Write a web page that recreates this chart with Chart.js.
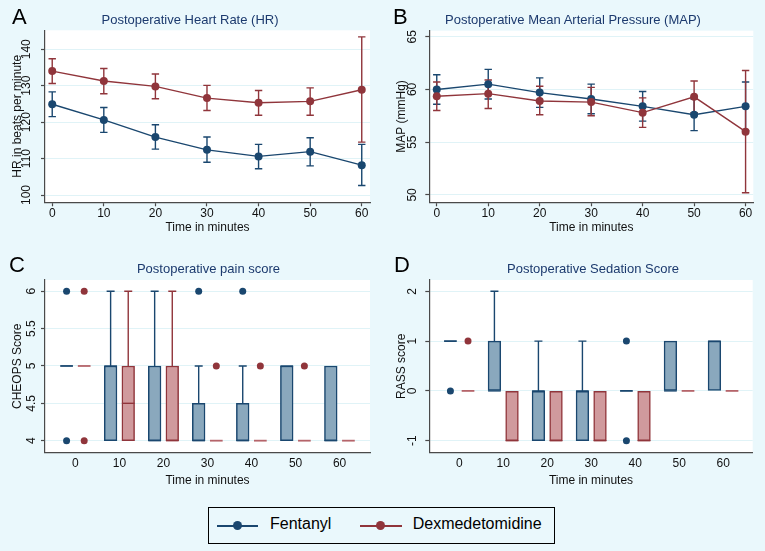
<!DOCTYPE html>
<html>
<head>
<meta charset="utf-8">
<script src="https://cdn.jsdelivr.net/npm/chart.js@4.4.1/dist/chart.umd.min.js"></script>
<style>
html,body{margin:0;padding:0;background:#eaf8fc;}
#root{position:relative;width:765px;height:551px;overflow:hidden;font-family:"Liberation Sans",Arial,Helvetica,sans-serif;background:#eaf8fc;}
canvas{position:absolute;}
.ttl{position:absolute;color:#1c3a6e;font-size:13px;line-height:13px;white-space:nowrap;transform:translateX(-50%);}
.let{position:absolute;color:#000;font-size:22px;line-height:22px;}
#legend{position:absolute;left:208px;top:507px;width:347px;height:37px;border:1px solid #000;box-sizing:border-box;}
.lgline{position:absolute;height:1.5px;}
.lgdot{position:absolute;width:9px;height:9px;border-radius:50%;}
.lgtxt{position:absolute;font-size:16px;line-height:16px;color:#000;white-space:nowrap;}
</style>
</head>
<body>
<div id="root">
  <canvas id="cA" width="383" height="250" style="left:0;top:0;"></canvas>
  <canvas id="cB" width="382" height="250" style="left:383px;top:0;"></canvas>
  <canvas id="cC" width="383" height="250" style="left:0;top:250px;"></canvas>
  <canvas id="cD" width="382" height="250" style="left:383px;top:250px;"></canvas>

  <div class="let" style="left:12px;top:6.4px;">A</div>
  <div class="let" style="left:393px;top:6.4px;">B</div>
  <div class="let" style="left:9px;top:254.4px;">C</div>
  <div class="let" style="left:394px;top:254.4px;">D</div>

  <div class="ttl" style="left:190px;top:13px;">Postoperative Heart Rate (HR)</div>
  <div class="ttl" style="left:573px;top:13px;">Postoperative Mean Arterial Pressure (MAP)</div>
  <div class="ttl" style="left:208.5px;top:261.5px;">Postoperative pain score</div>
  <div class="ttl" style="left:593px;top:261.5px;">Postoperative Sedation Score</div>

  <div id="legend"></div>
  <div class="lgline" style="left:217px;top:525px;width:41px;background:#1a476f;"></div>
  <div class="lgdot" style="left:233.2px;top:521.2px;background:#1a476f;"></div>
  <div class="lgtxt" style="left:270px;top:516px;">Fentanyl</div>
  <div class="lgline" style="left:360px;top:525px;width:42px;background:#90353b;"></div>
  <div class="lgdot" style="left:376.2px;top:521.2px;background:#90353b;"></div>
  <div class="lgtxt" style="left:412.7px;top:516px;">Dexmedetomidine</div>
</div>

<script>
// ---------------- DATA ----------------
const minutes = [0, 10, 20, 30, 40, 50, 60];

// A: Heart rate (mean with 95% CI)
const hrFentMean = [124.9, 120.6, 115.9, 112.4, 110.6, 111.9, 108.2];
const hrFentLo   = [121.5, 117.2, 112.6, 109.0, 107.2, 108.0, 102.6];
const hrFentHi   = [128.3, 124.0, 119.3, 115.9, 113.9, 115.7, 113.9];
const hrDexMean  = [134.0, 131.3, 129.8, 126.6, 125.3, 125.7, 128.9];
const hrDexLo    = [130.6, 127.8, 126.4, 123.2, 121.9, 121.9, 114.5];
const hrDexHi    = [137.4, 134.7, 133.2, 130.1, 128.7, 129.4, 143.4];
const hrTicks    = [100, 110, 120, 130, 140];

// B: Mean arterial pressure
const mapFentMean = [60.0, 60.5, 59.7, 59.1, 58.4, 57.6, 58.4];
const mapFentLo   = [58.6, 59.1, 58.3, 57.7, 57.0, 56.1, 56.1];
const mapFentHi   = [61.4, 61.9, 61.1, 60.5, 59.8, 59.1, 60.7];
const mapDexMean  = [59.35, 59.6, 58.9, 58.8, 57.8, 59.3, 56.0];
const mapDexLo    = [58.0, 58.2, 57.6, 57.5, 56.4, 57.8, 50.2];
const mapDexHi    = [60.7, 60.9, 60.3, 60.2, 59.2, 60.8, 61.8];
const mapTicks    = [50, 55, 60, 65];

// C: Pain score (CHEOPS) box plots
const painFentQ1  = [5, 4, 4, 4, 4, 4, 4];
const painFentMed = [5, 5, 4, 4, 4, 5, 4];
const painFentQ3  = [5, 5, 5, 4.5, 4.5, 5, 5];
const painFentLow = [5, 4, 4, 4, 4, 4, 4];
const painFentHigh= [5, 6, 6, 5, 5, 5, 5];
const painFentOut = [[6, 4], [], [], [6], [6], [], []];
const painDexQ1   = [5, 4, 4, 4, 4, 4, 4];
const painDexMed  = [5, 4.5, 4, 4, 4, 4, 4];
const painDexQ3   = [5, 5, 5, 4, 4, 4, 4];
const painDexLow  = [5, 4, 4, 4, 4, 4, 4];
const painDexHigh = [5, 6, 6, 4, 4, 4, 4];
const painDexOut  = [[6, 4], [], [], [5], [5], [5], []];
const painTicks   = [4, 4.5, 5, 5.5, 6];

// D: Sedation score (RASS) box plots
const sedFentQ1   = [1, 0, -1, -1, 0, 0, 0];
const sedFentMed  = [1, 0, 0, 0, 0, 0, 1];
const sedFentQ3   = [1, 1, 0, 0, 0, 1, 1];
const sedFentLow  = [1, 0, -1, -1, 0, 0, 0];
const sedFentHigh = [1, 2, 1, 1, 0, 1, 1];
const sedFentOut  = [[0], [], [], [], [1, -1], [], []];
const sedDexQ1    = [0, -1, -1, -1, -1, 0, 0];
const sedDexMed   = [0, -1, -1, -1, -1, 0, 0];
const sedDexQ3    = [0, 0, 0, 0, 0, 0, 0];
const sedDexLow   = [0, -1, -1, -1, -1, 0, 0];
const sedDexHigh  = [0, 0, 0, 0, 0, 0, 0];
const sedDexOut   = [[1], [], [], [], [], [], []];
const rassTicks   = [-1, 0, 1, 2];

// ---------------- STYLE ----------------
const FONT = "'Liberation Sans', Arial, Helvetica, sans-serif";
const BLUE = '#1a476f', RED = '#90353b';
const BLUE_FILL = '#8aa8bd', RED_FILL = '#d09a9d';
const BLUE_FLAT = '#1a476f', RED_FLAT = '#b5646a';
const AXIS = '#4a4a4a', GRID = '#e0f3f7', TXT = '#111111';

const plotBg = {
  id: 'plotBg',
  beforeDraw(chart) {
    const {ctx, chartArea: a} = chart;
    ctx.save(); ctx.fillStyle = '#ffffff';
    ctx.fillRect(a.left, a.top, a.right - a.left, a.bottom - a.top);
    ctx.restore();
  }
};

function yScale(o) {
  return {
    type: 'linear', position: 'left', min: o.min, max: o.max, beginAtZero: false,
    afterBuildTicks: s => { s.ticks = o.ticks.map(v => ({value: v})); },
    afterFit: s => { s.width = o.width; },
    ticks: {minRotation: 90, maxRotation: 90, crossAlign: 'center', padding: o.tickPad, autoSkip: false,
            color: TXT, font: {family: FONT, size: 12}, callback: v => String(v)},
    grid: {color: GRID, lineWidth: 1, drawTicks: true, tickLength: 4, tickColor: AXIS, tickWidth: 1.2},
    border: {display: true, color: AXIS, width: 1.2},
    title: {display: true, text: o.title, color: TXT, font: {family: FONT, size: 12},
            padding: {top: o.titlePad, bottom: 0}}
  };
}
function xScale(o) {
  return {
    type: 'linear', position: 'bottom', min: o.min, max: o.max, offset: false,
    afterBuildTicks: s => { s.ticks = o.ticks.map(v => ({value: v})); },
    afterFit: s => { s.height = 36; },
    ticks: {minRotation: 0, maxRotation: 0, padding: o.tickPad, autoSkip: false,
            color: TXT, font: {family: FONT, size: 12}, callback: o.label},
    grid: o.drawTicks
      ? {drawOnChartArea: false, drawTicks: true, tickLength: 4, tickColor: AXIS, tickWidth: 1.2, offset: false}
      : {display: false, drawTicks: false, offset: false},
    border: {display: true, color: AXIS, width: 1.2},
    title: {display: true, text: 'Time in minutes', color: TXT, font: {family: FONT, size: 12},
            padding: {top: 0, bottom: o.titlePad}}
  };
}

function errorBars(series) {
  return {
    id: 'errorBars',
    beforeDatasetsDraw(chart) {
      const xs = chart.scales.x, ys = chart.scales.y, ctx = chart.ctx;
      ctx.save();
      series.forEach(s => {
        ctx.strokeStyle = s.color; ctx.lineWidth = 1.4;
        s.lo.forEach((lo, i) => {
          const x = xs.getPixelForValue(minutes[i]);
          const y1 = ys.getPixelForValue(lo), y2 = ys.getPixelForValue(s.hi[i]);
          ctx.beginPath();
          ctx.moveTo(x, y1); ctx.lineTo(x, y2);
          ctx.moveTo(x - 3.7, y1); ctx.lineTo(x + 3.7, y1);
          ctx.moveTo(x - 3.7, y2); ctx.lineTo(x + 3.7, y2);
          ctx.stroke();
        });
      });
      ctx.restore();
    }
  };
}

function lineDs(label, mean, color, order) {
  return {
    label, order,
    data: minutes.map((m, i) => ({x: m, y: mean[i]})),
    borderColor: color, backgroundColor: color, borderWidth: 1.4,
    pointRadius: 4, pointBackgroundColor: color, pointBorderWidth: 0, tension: 0
  };
}

function lineChart(id, g) {
  return new Chart(document.getElementById(id), {
    type: 'line',
    data: {datasets: [
      lineDs('Fentanyl', g.fMean, BLUE, 1),
      lineDs('Dexmedetomidine', g.dMean, RED, 0)
    ]},
    options: {
      responsive: false, animation: false, events: [],
      layout: {padding: g.pad},
      plugins: {legend: {display: false}, tooltip: {enabled: false}, title: {display: false}},
      scales: {x: xScale(g.x), y: yScale(g.y)}
    },
    plugins: [plotBg, errorBars([
      {color: BLUE, lo: g.fLo, hi: g.fHi},
      {color: RED, lo: g.dLo, hi: g.dHi}
    ])]
  });
}

const OFF = 0.2;
function boxExtras(series) {
  return {
    id: 'boxExtras',
    afterDatasetsDraw(chart) {
      const xs = chart.scales.x, ys = chart.scales.y, ctx = chart.ctx;
      ctx.save();
      series.forEach(s => {
        s.q1.forEach((q1, i) => {
          const x = xs.getPixelForValue(i + s.off);
          const half = 6.35, cap = 4;
          ctx.strokeStyle = s.line; ctx.lineWidth = 1.4;
          if (s.hi[i] > s.q3[i]) {
            const a = ys.getPixelForValue(s.q3[i]), b = ys.getPixelForValue(s.hi[i]);
            ctx.beginPath(); ctx.moveTo(x, a); ctx.lineTo(x, b);
            ctx.moveTo(x - cap, b); ctx.lineTo(x + cap, b); ctx.stroke();
          }
          if (s.lo[i] < q1) {
            const a = ys.getPixelForValue(q1), b = ys.getPixelForValue(s.lo[i]);
            ctx.beginPath(); ctx.moveTo(x, a); ctx.lineTo(x, b);
            ctx.moveTo(x - cap, b); ctx.lineTo(x + cap, b); ctx.stroke();
          }
          const flat = q1 === s.q3[i];
          const ym = ys.getPixelForValue(s.med[i]);
          ctx.strokeStyle = flat ? s.flat : s.line;
          ctx.lineWidth = flat ? 1.8 : 1.4;
          ctx.beginPath(); ctx.moveTo(x - half, ym); ctx.lineTo(x + half, ym); ctx.stroke();
        });
      });
      ctx.restore();
    }
  };
}

function boxDs(label, q1, q3, off, fill, line) {
  const data = [];
  q1.forEach((v, i) => { if (q3[i] > v) data.push({x: i + off, y: [v, q3[i]]}); });
  return {
    type: 'bar', label, data, backgroundColor: fill, borderColor: line, borderWidth: 1.5,
    borderSkipped: false, barThickness: 12.7, grouped: false, order: 2
  };
}
function outDs(label, outs, off, color) {
  const data = [];
  outs.forEach((arr, i) => arr.forEach(v => data.push({x: i + off, y: v})));
  return {type: 'scatter', label, data, pointRadius: 3.5, pointBackgroundColor: color,
          pointBorderWidth: 0, backgroundColor: color, borderColor: color, showLine: false, order: 1};
}

function boxChart(id, g) {
  return new Chart(document.getElementById(id), {
    type: 'bar',
    data: {datasets: [
      boxDs('Fentanyl', g.f.q1, g.f.q3, -OFF, BLUE_FILL, BLUE),
      boxDs('Dexmedetomidine', g.d.q1, g.d.q3, OFF, RED_FILL, RED),
      outDs('Fentanyl outliers', g.f.out, -OFF, BLUE),
      outDs('Dexmedetomidine outliers', g.d.out, OFF, RED)
    ]},
    options: {
      responsive: false, animation: false, events: [],
      layout: {padding: g.pad},
      plugins: {legend: {display: false}, tooltip: {enabled: false}, title: {display: false}},
      scales: {x: xScale(g.x), y: yScale(g.y)}
    },
    plugins: [plotBg, boxExtras([
      {off: -OFF, line: BLUE, flat: BLUE_FLAT, q1: g.f.q1, med: g.f.med, q3: g.f.q3, lo: g.f.lo, hi: g.f.hi},
      {off: OFF, line: RED, flat: RED_FLAT, q1: g.d.q1, med: g.d.med, q3: g.d.q3, lo: g.d.lo, hi: g.d.hi}
    ])]
  });
}

// ---------------- CHARTS ----------------
lineChart('cA', {
  fMean: hrFentMean, fLo: hrFentLo, fHi: hrFentHi,
  dMean: hrDexMean, dLo: hrDexLo, dHi: hrDexHi,
  pad: {top: 30.3, left: 0, right: 13, bottom: 11.7},
  x: {min: -1.4, max: 61.6, ticks: minutes, label: v => String(v), drawTicks: true, tickPad: 0, titlePad: 3.6},
  y: {min: 98.0, max: 145.2, ticks: hrTicks, width: 45, tickPad: 4.5, title: 'HR in beats per minute', titlePad: 10.4}
});

lineChart('cB', {
  fMean: mapFentMean, fLo: mapFentLo, fHi: mapFentHi,
  dMean: mapDexMean, dLo: mapDexLo, dHi: mapDexHi,
  pad: {top: 30.7, left: 0, right: 11.7, bottom: 11.7},
  x: {min: -1.45, max: 61.5, ticks: minutes, label: v => String(v), drawTicks: true, tickPad: 0, titlePad: 3.6},
  y: {min: 49.3, max: 65.57, ticks: mapTicks, width: 46.3, tickPad: 5.5, title: 'MAP (mmHg)', titlePad: 11.6}
});

const catIdx = minutes.map((m, i) => i);
boxChart('cC', {
  f: {q1: painFentQ1, med: painFentMed, q3: painFentQ3, lo: painFentLow, hi: painFentHigh, out: painFentOut},
  d: {q1: painDexQ1, med: painDexMed, q3: painDexQ3, lo: painDexLow, hi: painDexHigh, out: painDexOut},
  pad: {top: 30, left: 0, right: 13, bottom: 11.3},
  x: {min: -0.69, max: 6.69, ticks: catIdx, label: v => String(minutes[v]), drawTicks: false, tickPad: 3.4, titlePad: 0.5},
  y: {min: 3.839, max: 6.151, ticks: painTicks, width: 45, tickPad: 1.3, title: 'CHEOPS Score', titlePad: 10.5}
});

boxChart('cD', {
  f: {q1: sedFentQ1, med: sedFentMed, q3: sedFentQ3, lo: sedFentLow, hi: sedFentHigh, out: sedFentOut},
  d: {q1: sedDexQ1, med: sedDexMed, q3: sedDexQ3, lo: sedDexLow, hi: sedDexHigh, out: sedDexOut},
  pad: {top: 30, left: 0, right: 12.3, bottom: 11.3},
  x: {min: -0.68, max: 6.67, ticks: catIdx, label: v => String(minutes[v]), drawTicks: false, tickPad: 3.4, titlePad: 0.5},
  y: {min: -1.241, max: 2.227, ticks: rassTicks, width: 46.3, tickPad: 7.4, title: 'RASS score', titlePad: 11.5}
});
</script>
</body>
</html>
